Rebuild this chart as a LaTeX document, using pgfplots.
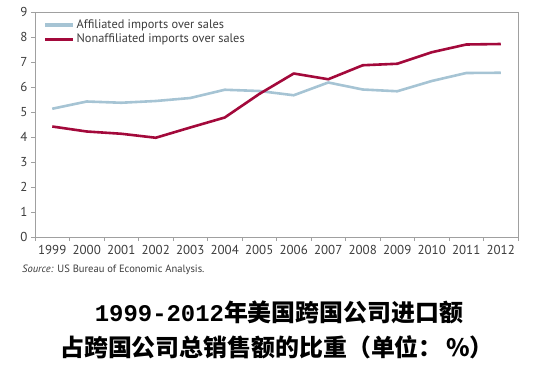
\documentclass[border=0pt]{standalone}
\usepackage{pgfplots}
\pgfplotsset{compat=1.18}
\usepackage{fontspec}
\setmainfont{PT Sans}
\newfontfamily\cjk{Noto Sans CJK SC}
\newfontfamily\monof{Liberation Mono}
\definecolor{affblue}{HTML}{A6C4D4}
\definecolor{nonred}{HTML}{A3093B}
\definecolor{axgray}{HTML}{A0A0A0}
\definecolor{txtgray}{HTML}{3C3C3C}
\begin{document}
\begin{tikzpicture}
\path[use as bounding box] (-35bp,-130bp) rectangle (523bp,237bp);
\begin{axis}[
  at={(0,0)}, anchor=south west,
  scale only axis, width=483bp, height=225bp,
  xmin=1998.5, xmax=2012.5, ymin=0, ymax=9,
  axis line style={axgray, line width=0.9pt},
  xtick={1998.5,1999.5,...,2012.5},
  x tick label as interval,
  xticklabels={1999,2000,2001,2002,2003,2004,2005,2006,2007,2008,2009,2010,2011,2012},
  ytick={0,1,...,9},
  xtick pos=lower, ytick pos=left,
  tick align=outside, major tick length=4bp,
  tick style={axgray, line width=0.8pt},
  /pgf/number format/1000 sep={},
  /pgf/number format/assume math mode=true,
  tick label style={font=\fontsize{13}{15}\selectfont, text=txtgray},
  xticklabel style={yshift=-1bp},
  legend style={draw=none, fill=none, at={(0.017,0.975)}, anchor=north west,
    font=\fontsize{12.4}{14}\selectfont, text=txtgray, row sep=0bp,
    inner sep=0pt},
  legend cell align=left,
  legend image code/.code={\draw[#1, line width=3.2bp, line cap=butt] (0bp,0bp) -- (28bp,0bp);},
  every axis plot/.append style={line width=2.6bp, line join=round},
]
\addplot[affblue] coordinates {
(1999,5.13) (2000,5.42) (2001,5.37) (2002,5.44) (2003,5.56) (2004,5.89) (2005,5.84)
(2006,5.67) (2007,6.18) (2008,5.90) (2009,5.83) (2010,6.24) (2011,6.56) (2012,6.57)};
\addlegendentry{Affiliated imports over sales}
\addplot[nonred] coordinates {
(1999,4.42) (2000,4.22) (2001,4.13) (2002,3.97) (2003,4.38) (2004,4.78) (2005,5.72)
(2006,6.54) (2007,6.31) (2008,6.87) (2009,6.93) (2010,7.39) (2011,7.70) (2012,7.72)};
\addlegendentry{Nonaffiliated imports over sales}
\end{axis}
\node[anchor=west, text=txtgray, font=\fontsize{10.6}{12}\selectfont, inner sep=0pt] at (-13bp,-33bp) {\textit{Source:} US Bureau of Economic Analysis.};
\node[font=\fontsize{24}{27}\selectfont\bfseries, inner sep=0pt] at (244bp,-75bp) {{\monof 1999-2012}{\cjk 年美国跨国公司进口额}};
\node[font=\fontsize{24}{27}\selectfont\bfseries, inner sep=0pt] at (242bp,-110bp) {\cjk 占跨国公司总销售额的比重（单位：\hspace{0.15em}\%）};
\end{tikzpicture}
\end{document}
